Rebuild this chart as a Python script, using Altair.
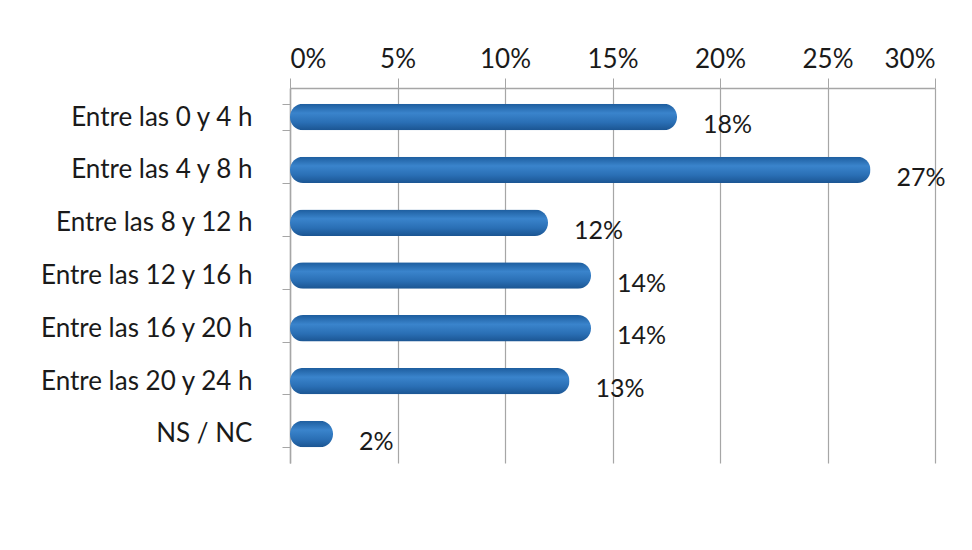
import altair as alt
import pandas as pd

categories = ["Entre las 0 y 4 h", "Entre las 4 y 8 h", "Entre las 8 y 12 h",
              "Entre las 12 y 16 h", "Entre las 16 y 20 h", "Entre las 20 y 24 h", "NS / NC"]
values = [0.18, 0.27, 0.12, 0.14, 0.14, 0.13, 0.02]
labels = ["18%", "27%", "12%", "14%", "14%", "13%", "2%"]

df = pd.DataFrame({"cat": categories, "val": values, "lab": labels})

FONT = "Lato"

x = alt.X("val:Q", scale=alt.Scale(domain=[0, 0.30], nice=False),
          axis=alt.Axis(orient="top", format="%", values=[0, 0.05, 0.10, 0.15, 0.20, 0.25, 0.30],
                        title=None, labelFontSize=26, labelFont=FONT, labelColor="#1a1a1a",
                        grid=True, gridColor="#a6a6a6", gridWidth=1.2,
                        domain=True, domainColor="#a6a6a6", domainWidth=1.5,
                        tickColor="#a6a6a6", tickSize=10, labelPadding=6))
y = alt.Y("cat:N", sort=categories, scale=alt.Scale(paddingInner=0.5, paddingOuter=0.3),
          axis=alt.Axis(title=None, labelFontSize=26, labelFont=FONT, labelColor="#1a1a1a",
                        domainColor="#a6a6a6", domainWidth=1.5, tickColor="#a6a6a6",
                        tickSize=8, tickBand="extent", labelPadding=30, labelLimit=320))

grad = alt.Gradient(gradient="linear", x1=0, x2=0, y1=0, y2=1,
                    stops=[alt.GradientStop(color="#1d5d9e", offset=0),
                           alt.GradientStop(color="#3a84cc", offset=0.35),
                           alt.GradientStop(color="#2a6fb5", offset=0.7),
                           alt.GradientStop(color="#1b5592", offset=1)])

bars = alt.Chart(df).mark_bar(color=grad, cornerRadius=13).encode(x=x, y=y)
text = alt.Chart(df).mark_text(align="left", baseline="middle", dx=26, dy=8,
                               fontSize=25, font=FONT, color="#1a1a1a").encode(
    x=alt.X("val:Q"), y=alt.Y("cat:N", sort=categories), text="lab:N")

chart = (bars + text).properties(
    width=645, height=375,
    autosize=alt.AutoSizeParams(type="none"),
    padding={"left": 290, "top": 88, "right": 37, "bottom": 87},
    background="white",
).configure_view(stroke=None)

chart.save("out.html", embed_options={"renderer": "svg", "actions": False})
